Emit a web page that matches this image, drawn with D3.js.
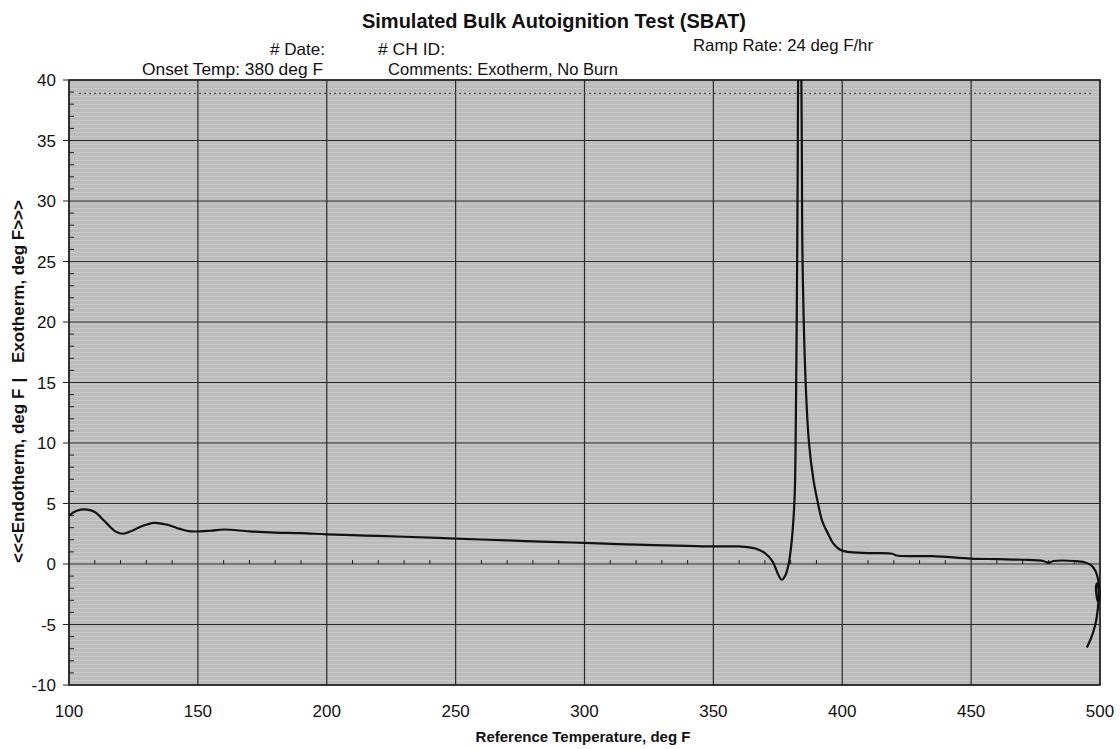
<!DOCTYPE html>
<html><head><meta charset="utf-8">
<script src="https://cdn.jsdelivr.net/npm/d3@7"></script>
<style>body{margin:0;background:#fff}text{font-family:"Liberation Sans",Arial,sans-serif;fill:#111}</style>
</head><body><svg id="c" width="1120" height="749"></svg>
<script>
const temps = [100,103,107,110,114,118,121,124,128,133,138,143,147,155,160,170,180,190,200,215,230,250,270,290,300,320,340,350,360,366,370,373,375,376.5,378,379.2,380.2,381,381.6,382,382.4,382.7,383,383.5,384,384.3,384.6,385.8,387.1,388.8,390.6,392.3,394.5,396.5,399,402,410,419.5,421,435,450,460,470,478,480,482,490,494,496.5,498.3,499.3,499.8,499.8,499.2,498.6,498.5,498.9,499.4,499.5,499.2,498.4,497.4,496.2,494.9];
const signal = [4.0,4.4,4.5,4.3,3.5,2.7,2.5,2.7,3.1,3.4,3.25,2.9,2.7,2.75,2.85,2.7,2.6,2.55,2.45,2.35,2.25,2.1,1.95,1.8,1.75,1.6,1.5,1.45,1.45,1.3,0.9,0.2,-0.8,-1.3,-0.9,0,1.5,3.5,6,12,22,32,42,45,42,35,25,15,10,7,5,3.5,2.5,1.7,1.2,1.0,0.9,0.85,0.7,0.65,0.45,0.4,0.35,0.25,0.1,0.25,0.25,0.15,-0.1,-0.6,-1.3,-2.2,-3.0,-3.1,-2.5,-1.8,-1.6,-2.0,-2.8,-3.6,-4.8,-5.6,-6.3,-6.9];
const xTicks = [100,150,200,250,300,350,400,450,500];
const yTicks = [-10,-5,0,5,10,15,20,25,30,35,40];
const artifactLevel = [38.9];

const svg = d3.select("#c");
const L=69,R=1100,T=80,B=685;
const x = d3.scaleLinear().domain([100,500]).range([L,R]);
const y = d3.scaleLinear().domain([-10,40]).range([B,T]);

const defs = svg.append("defs");
const pat = defs.append("pattern").attr("id","scan").attr("width",4).attr("height",4).attr("patternUnits","userSpaceOnUse");
pat.append("rect").attr("width",4).attr("height",1).attr("fill","#d2d2d2");
defs.append("clipPath").attr("id","clip").append("rect").attr("x",L).attr("y",T).attr("width",R-L+2).attr("height",B-T);

svg.append("rect").attr("x",L).attr("y",T).attr("width",R-L).attr("height",B-T).attr("fill","#bcbcbc");
svg.append("rect").attr("x",L).attr("y",T).attr("width",R-L).attr("height",B-T).attr("fill","url(#scan)").attr("opacity",0.6);

// gridlines
svg.append("g").selectAll("line").data(xTicks).join("line")
  .attr("x1",d=>x(d)).attr("x2",d=>x(d)).attr("y1",T).attr("y2",B).attr("stroke","#2a2a2a").attr("stroke-width",1.2);
svg.append("g").selectAll("line").data(yTicks).join("line")
  .attr("y1",d=>y(d)).attr("y2",d=>y(d)).attr("x1",L).attr("x2",R).attr("stroke","#2a2a2a").attr("stroke-width",1.2);
svg.append("rect").attr("x",L).attr("y",T).attr("width",R-L).attr("height",B-T).attr("fill","none").attr("stroke","#222").attr("stroke-width",1.6);

// dotted scan artifact near the top
svg.append("g").selectAll("line").data(artifactLevel).join("line")
  .attr("x1",L+10).attr("x2",R-8).attr("y1",d=>y(d)).attr("y2",d=>y(d))
  .attr("stroke","#555").attr("stroke-width",1.2).attr("stroke-dasharray","2,3");

// minor ticks on left axis
const yMinor = d3.range(-10,40,1).filter(v=>v%5!==0);
svg.append("g").selectAll("line").data(yMinor).join("line")
  .attr("x1",L).attr("x2",L+5).attr("y1",d=>y(d)).attr("y2",d=>y(d)).attr("stroke","#222");
// minor ticks on x axis at zero line
const xMinor = d3.range(110,500,10).filter(v=>v%50!==0);
svg.append("g").selectAll("line").data(xMinor).join("line")
  .attr("x1",d=>x(d)).attr("x2",d=>x(d)).attr("y1",y(0)-4).attr("y2",y(0)).attr("stroke","#222");
// major outer ticks
svg.append("g").selectAll("line").data(yTicks).join("line")
  .attr("x1",L-6).attr("x2",L).attr("y1",d=>y(d)).attr("y2",d=>y(d)).attr("stroke","#222");

// tick labels
svg.append("g").selectAll("text").data(yTicks).join("text")
  .attr("x",L-13).attr("y",d=>y(d)+6).attr("text-anchor","end").attr("font-size",17).text(d=>d);
svg.append("g").selectAll("text").data(xTicks).join("text")
  .attr("x",d=>x(d)).attr("y",717).attr("text-anchor","middle").attr("font-size",17).text(d=>d);

// curve
const pts = temps.map((t,i)=>[t,signal[i]]);
svg.append("path").datum(pts).attr("clip-path","url(#clip)")
  .attr("d",d3.line().x(d=>x(d[0])).y(d=>y(d[1])).curve(d3.curveCatmullRom.alpha(0.5)))
  .attr("fill","none").attr("stroke","#111").attr("stroke-width",2.2);

// titles
svg.append("text").attr("x",554).attr("y",28).attr("text-anchor","middle").attr("font-size",20).attr("font-weight","bold").text("Simulated Bulk Autoignition Test (SBAT)");
const hdr=[["# Date:",270,55,55],["# CH ID:",378,55,67],["Ramp Rate: 24 deg F/hr",693,51,180],["Onset Temp: 380 deg F",142,75,181],["Comments: Exotherm, No Burn",388,75,230]];
svg.append("g").selectAll("text").data(hdr).join("text")
  .attr("x",d=>d[1]).attr("y",d=>d[2]).attr("font-size",16.5)
  .attr("textLength",d=>d[3]).attr("lengthAdjust","spacingAndGlyphs").text(d=>d[0]);
svg.append("text").attr("x",583).attr("y",742).attr("text-anchor","middle").attr("font-size",15).attr("font-weight","bold").text("Reference Temperature, deg F");
const yl = svg.append("g").attr("transform","translate(24,0) rotate(-90)").attr("font-size",17).attr("font-weight","bold");
yl.append("text").attr("x",-563).attr("y",0).attr("text-anchor","start").text("<<<Endotherm, deg F");
yl.append("text").attr("x",-380).attr("y",0).attr("text-anchor","middle").text("|");
yl.append("text").attr("x",-363).attr("y",0).attr("text-anchor","start").text("Exotherm, deg F>>>");
</script></body></html>
